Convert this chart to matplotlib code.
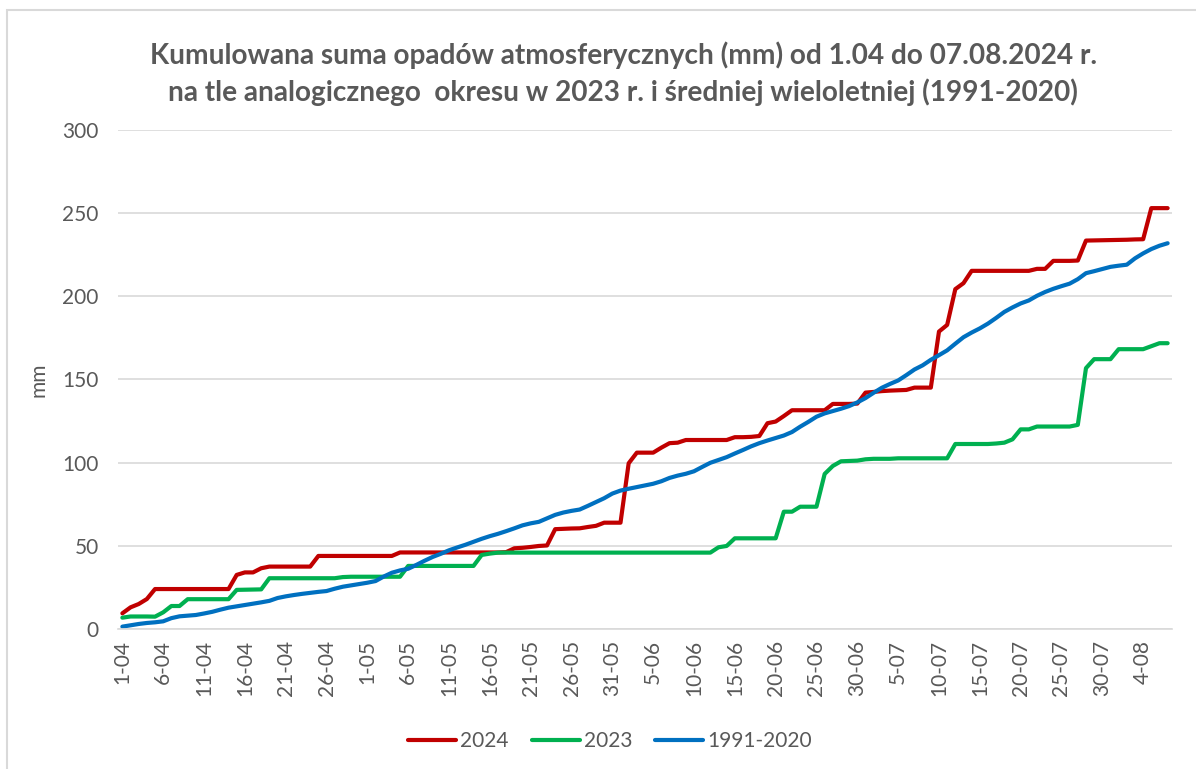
import matplotlib
matplotlib.use("Agg")
import matplotlib.pyplot as plt
from matplotlib.patches import Rectangle
import numpy as np
import pandas as pd

# daily cumulative precipitation, 1 Apr .. 7 Aug (mm)
opady_2024 = [
    9.4, 13.0, 15.0, 18.0, 24.0, 24.0, 24.0, 24.0, 24.0, 24.0,
    24.0, 24.0, 24.0, 24.0, 32.5, 34.0, 34.0, 36.5, 37.5, 37.5,
    37.5, 37.5, 37.5, 37.5, 43.9, 43.9, 43.9, 43.9, 43.9, 43.9,
    43.9, 43.9, 43.9, 43.9, 46.0, 46.0, 46.0, 46.0, 46.0, 46.0,
    46.0, 46.0, 46.0, 46.0, 46.0, 46.0, 46.0, 46.2, 48.5, 48.8,
    49.3, 49.9, 50.2, 60.0, 60.2, 60.4, 60.5, 61.3, 62.0, 63.9,
    63.9, 63.9, 99.6, 106.0, 106.0, 106.0, 109.0, 111.7, 112.0, 113.6,
    113.6, 113.6, 113.6, 113.6, 113.6, 115.3, 115.3, 115.5, 116.0, 123.7,
    124.7, 128.0, 131.5, 131.5, 131.5, 131.5, 131.5, 135.3, 135.3, 135.3,
    135.5, 142.1, 142.5, 143.0, 143.3, 143.5, 143.7, 145.1, 145.1, 145.1,
    178.8, 182.8, 204.3, 207.9, 215.3, 215.3, 215.3, 215.3, 215.3, 215.3,
    215.3, 215.3, 216.5, 216.5, 221.3, 221.3, 221.3, 221.5, 233.5, 233.6,
    233.7, 233.8, 233.9, 234.0, 234.2, 234.3, 253.0, 253.0, 253.0,
]

opady_2023 = [
    6.8, 7.5, 7.5, 7.5, 7.4, 10.0, 13.8, 13.8, 17.9, 17.9,
    17.9, 17.9, 17.9, 17.9, 23.5, 23.6, 23.7, 23.8, 30.5, 30.5,
    30.5, 30.5, 30.5, 30.5, 30.5, 30.5, 30.5, 31.2, 31.4, 31.4,
    31.4, 31.4, 31.4, 31.4, 31.4, 37.9, 37.9, 37.9, 37.9, 37.9,
    37.9, 37.9, 37.9, 37.9, 44.5, 45.3, 45.9, 45.9, 45.9, 45.9,
    45.9, 45.9, 45.9, 45.9, 45.9, 45.9, 45.9, 45.9, 45.9, 45.9,
    45.9, 45.9, 45.9, 45.9, 45.9, 45.9, 45.9, 45.9, 45.9, 45.9,
    45.9, 45.9, 45.9, 49.1, 49.9, 54.5, 54.5, 54.5, 54.5, 54.5,
    54.5, 70.5, 70.5, 73.5, 73.5, 73.5, 93.2, 98.0, 100.8, 101.0,
    101.2, 102.0, 102.3, 102.3, 102.3, 102.6, 102.6, 102.6, 102.6, 102.6,
    102.6, 102.6, 111.2, 111.2, 111.2, 111.2, 111.2, 111.5, 112.0, 114.0,
    120.0, 120.0, 121.7, 121.7, 121.7, 121.7, 121.7, 122.7, 156.8, 162.2,
    162.2, 162.2, 168.2, 168.2, 168.2, 168.2, 170.0, 171.8, 171.8,
]

opady_norma = [
    1.4, 2.2, 3.0, 3.6, 4.0, 4.6, 6.5, 7.6, 8.0, 8.4,
    9.3, 10.3, 11.6, 12.8, 13.6, 14.4, 15.2, 16.0, 16.9, 18.6,
    19.6, 20.4, 21.1, 21.7, 22.3, 22.8, 24.2, 25.4, 26.2, 27.0,
    27.8, 28.8, 31.5, 33.8, 35.2, 36.2, 38.5, 41.0, 43.3, 45.2,
    47.3, 49.0, 50.6, 52.4, 54.2, 55.8, 57.2, 58.8, 60.5, 62.3,
    63.5, 64.4, 66.5, 68.6, 70.0, 71.0, 71.8, 74.0, 76.3, 78.6,
    81.4, 83.2, 84.3, 85.3, 86.3, 87.3, 88.8, 90.8, 92.2, 93.3,
    94.8, 97.4, 99.9, 101.6, 103.3, 105.5, 107.6, 109.8, 111.7, 113.3,
    114.8, 116.3, 118.4, 121.6, 124.5, 127.6, 129.6, 131.0, 132.4, 134.0,
    136.2, 138.8, 142.0, 145.0, 147.3, 149.4, 152.6, 156.0, 158.5, 161.8,
    164.6, 167.5, 171.5, 175.4, 178.2, 180.7, 183.6, 187.0, 190.6, 193.3,
    195.7, 197.5, 200.3, 202.6, 204.5, 206.1, 207.6, 210.3, 213.9, 215.1,
    216.4, 217.7, 218.4, 219.0, 222.8, 225.8, 228.4, 230.4, 231.9,
]

dni = pd.date_range("2024-04-01", "2024-08-07", freq="D")
etykiety = [f"{d.day}-{d.month:02d}" for d in dni]

plt.rcParams["font.family"] = ["Lato", "DejaVu Sans"]
szary = "#595959"

fig = plt.figure(figsize=(11.96, 7.69), dpi=100)
ax = fig.add_axes([0.0989, 0.1821, 0.8808, 0.6489])

x = np.arange(len(dni))
ax.plot(x, opady_2024, color="#C00000", lw=3, label="2024", solid_capstyle="round")
ax.plot(x, opady_2023, color="#00B050", lw=3, label="2023", solid_capstyle="round")
ax.plot(x, opady_norma, color="#0070C0", lw=3, label="1991-2020", solid_capstyle="round")

ax.set_xlim(-0.5, len(dni) - 0.5)
ax.set_ylim(0, 300)
ax.set_yticks(range(0, 301, 50))
ax.set_xticks(x[::5])
ax.set_xticklabels(etykiety[::5], rotation=90)
ax.tick_params(axis="both", length=0, labelsize=15, colors=szary, pad=8)
ax.tick_params(axis="y", pad=14)
ax.grid(axis="y", color="#D9D9D9", lw=1.2)
ax.set_axisbelow(True)
for s in ["top", "right", "left"]:
    ax.spines[s].set_visible(False)
ax.spines["bottom"].set_color("#D9D9D9")
ax.spines["bottom"].set_linewidth(1.2)

ax.set_ylabel("mm", fontsize=15, color=szary, labelpad=10)

fig.text(0.521, 0.928, "Kumulowana suma opadów atmosferycznych (mm) od 1.04 do 07.08.2024 r.",
         ha="center", va="center", fontsize=20.2, fontweight="bold", color=szary)
fig.text(0.521, 0.88, "na tle analogicznego  okresu w 2023 r. i średniej wieloletniej (1991-2020)",
         ha="center", va="center", fontsize=20.2, fontweight="bold", color=szary)

leg = fig.legend(loc="center", bbox_to_anchor=(0.51, 0.036), ncol=3, frameon=False,
                 fontsize=15, handlelength=2.3, handletextpad=0.2, columnspacing=1.1)
for t in leg.get_texts():
    t.set_color(szary)

fig.patches.append(Rectangle((7 / 1196, -0.1), 1.2, 1.1 - 10 / 769, transform=fig.transFigure,
                             fill=False, edgecolor="#D9D9D9", lw=1.5))

fig.savefig("out.png", dpi=100)
